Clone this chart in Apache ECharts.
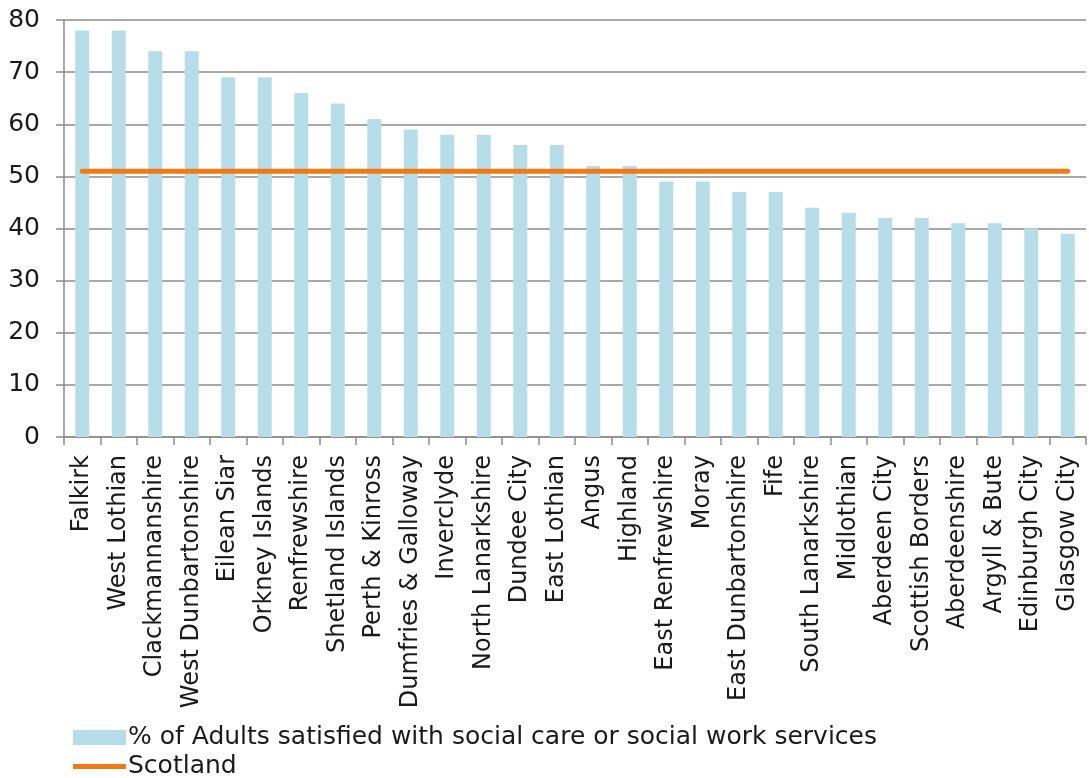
<!DOCTYPE html>
<html>
<head>
<meta charset="utf-8">
<script src="https://cdn.jsdelivr.net/npm/echarts@6/dist/echarts.min.js"></script>
<style>
  html, body { margin: 0; padding: 0; background: #fff; }
  #chart { width: 1089px; height: 778px; }
</style>
</head>
<body>
<div id="chart"></div>
<script>
// Council areas, ordered by satisfaction
const councils = [
  'Falkirk', 'West Lothian', 'Clackmannanshire', 'West Dunbartonshire',
  'Eilean Siar', 'Orkney Islands', 'Renfrewshire', 'Shetland Islands',
  'Perth & Kinross', 'Dumfries & Galloway', 'Inverclyde', 'North Lanarkshire',
  'Dundee City', 'East Lothian', 'Angus', 'Highland', 'East Renfrewshire',
  'Moray', 'East Dunbartonshire', 'Fife', 'South Lanarkshire', 'Midlothian',
  'Aberdeen City', 'Scottish Borders', 'Aberdeenshire', 'Argyll & Bute',
  'Edinburgh City', 'Glasgow City'
];

// % of adults satisfied with social care or social work services
const satisfied = [
  78, 78, 74, 74, 69, 69, 66, 64, 61, 59, 58, 58, 56, 56,
  52, 52, 49, 49, 47, 47, 44, 43, 42, 42, 41, 41, 40, 39
];

// National average
const scotlandValue = 51;
const scotland = councils.map(() => scotlandValue);

const FONT = 'DejaVu Sans';
const BAR_COLOR = '#b7dde8';
const LINE_COLOR = '#f07a14';

// Legend key for the line: a 5px stroke centred in a 53x15 box
// (tiny corner marks keep the bounding box at full height).
const lineKey = 'path://M0,0 L0.01,0 L0.01,0.01 Z M0,5 L53,5 L53,10 L0,10 Z M0,15 L0.01,15 L0.01,14.99 Z';

const chart = echarts.init(document.getElementById('chart'), null, { renderer: 'canvas' });
chart.setOption({
  animation: false,
  backgroundColor: '#ffffff',
  textStyle: { fontFamily: FONT, color: '#1a1a1a' },
  grid: { left: 64, right: 3, top: 20, bottom: 341, containLabel: false },
  legend: {
    orient: 'vertical',
    left: 73,
    top: 725,
    width: 900,
    height: 60,
    padding: 0,
    itemGap: 4,
    itemWidth: 53,
    itemHeight: 15,
    textStyle: { fontFamily: FONT, fontSize: 25, lineHeight: 24, color: '#1a1a1a', padding: [0, 0, 0, -3] },
    data: [
      { name: '% of Adults satisfied with social care or social work services', icon: 'rect' },
      { name: 'Scotland', icon: lineKey, itemStyle: { color: LINE_COLOR } }
    ]
  },
  xAxis: {
    type: 'category',
    data: councils,
    boundaryGap: true,
    axisLine: { lineStyle: { color: '#8c8c8c', width: 1.5 } },
    axisTick: { show: true, length: 8, lineStyle: { color: '#8c8c8c', width: 1.5 } },
    axisLabel: {
      interval: 0,
      rotate: 90,
      fontFamily: FONT,
      fontSize: 24,
      color: '#1a1a1a',
      margin: 18
    }
  },
  yAxis: {
    type: 'value',
    min: 0,
    max: 80,
    interval: 10,
    axisLine: { show: true, lineStyle: { color: '#8c8c8c', width: 1.5 } },
    axisTick: { show: true, length: 8, lineStyle: { color: '#8c8c8c', width: 1.5 } },
    splitLine: { show: true, lineStyle: { color: '#8c8c8c', width: 1.5 } },
    axisLabel: { fontFamily: FONT, fontSize: 25, color: '#1a1a1a', margin: 24 }
  },
  series: [
    {
      name: '% of Adults satisfied with social care or social work services',
      type: 'bar',
      data: satisfied,
      barWidth: 14,
      itemStyle: { color: BAR_COLOR }
    },
    {
      name: 'Scotland',
      type: 'line',
      data: scotland,
      symbol: 'none',
      lineStyle: { color: LINE_COLOR, width: 5, cap: 'round' },
      itemStyle: { color: LINE_COLOR }
    }
  ]
});
</script>
</body>
</html>
